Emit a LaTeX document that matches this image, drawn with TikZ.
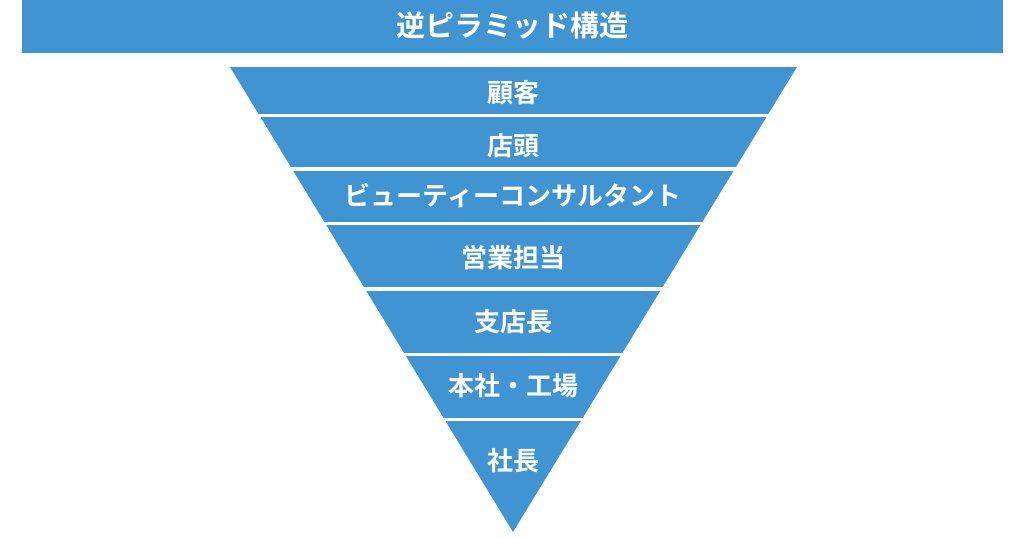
\documentclass[tikz,border=0pt]{standalone}
\usepackage{fontspec}
\setmainfont{Noto Sans CJK JP}[BoldFont={* Bold}]
\definecolor{pyblue}{HTML}{3F94D1}
\begin{document}
\begin{tikzpicture}[x=1pt,y=-1pt,
  band/.style={text=white, font=\bfseries\fontsize{26}{28}\selectfont, inner sep=0pt},
  gap/.style={draw=white, line width=3.5pt}
]
\useasboundingbox (0,0) rectangle (1023,538);

% title banner
\fill[pyblue] (22,0) rectangle (1003,53);
\node[band, font=\bfseries\fontsize{29}{31}\selectfont] (title) at (512,26) {逆ピラミッド構造};

% inverted pyramid
\fill[pyblue] (230,67) -- (797,67) -- (513,532) -- cycle;
\foreach \y in {115.5,169,223.5,289,354.5,419.5}
  \draw[gap] (200,\y) -- (830,\y);

\node[band] (kokyaku) at (513,93) {顧客};
\node[band] (tento) at (513,146) {店頭};
\node[band] (bc) at (513,196) {ビューティーコンサルタント};
\node[band] (eigyo) at (513,258) {営業担当};
\node[band] (shitencho) at (513,322) {支店長};
\node[band] (honsha) at (513,386) {本社・工場};
\node[band] (shacho) at (513,461) {社長};
\end{tikzpicture}
\end{document}
